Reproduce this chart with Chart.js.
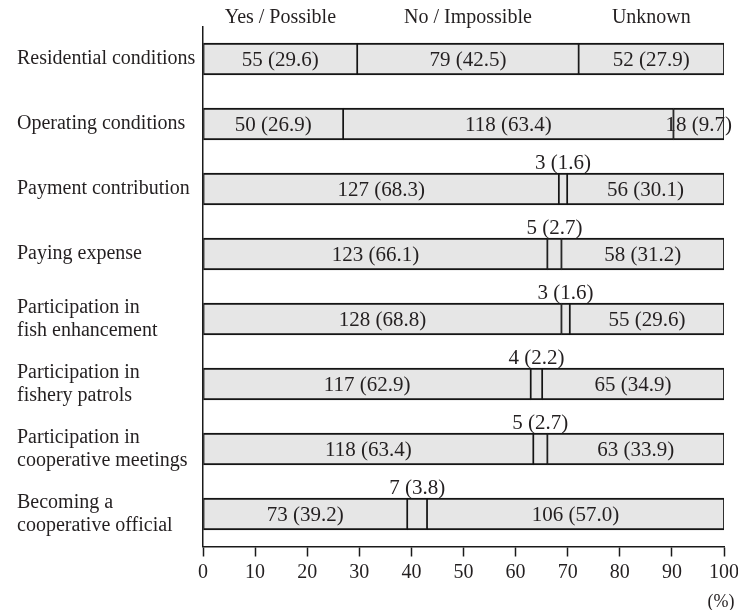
<!DOCTYPE html>
<html>
<head>
<meta charset="utf-8">
<script src="https://cdn.jsdelivr.net/npm/chart.js@4"></script>
<style>
  body { margin: 0; background: #ffffff; }
  #wrap { width: 738px; height: 610px; }
</style>
</head>
<body>
<div id="wrap"><canvas id="surveyChart" width="738" height="610"></canvas></div>
<script>
// === Chart data (counts and percentages per answer) ===
const categories = [
  "Residential conditions",
  "Operating conditions",
  "Payment contribution",
  "Paying expense",
  ["Participation in", "fish enhancement"],
  ["Participation in", "fishery patrols"],
  ["Participation in", "cooperative meetings"],
  ["Becoming a", "cooperative official"],
];
const answerNames = ["Yes / Possible", "No / Impossible", "Unknown"];

const yesCount = [55, 50, 127, 123, 128, 117, 118, 73];
const yesPct = [29.6, 26.9, 68.3, 66.1, 68.8, 62.9, 63.4, 39.2];
const noCount = [79, 118, 3, 5, 3, 4, 5, 7];
const noPct = [42.5, 63.4, 1.6, 2.7, 1.6, 2.2, 2.7, 3.8];
const unknownCount = [52, 18, 56, 58, 55, 65, 63, 106];
const unknownPct = [27.9, 9.7, 30.1, 31.2, 29.6, 34.9, 33.9, 57.0];

const xTicks = [0, 10, 20, 30, 40, 50, 60, 70, 80, 90, 100];

const counts = [yesCount, noCount, unknownCount];
const serif = "'Liberation Serif', 'DejaVu Serif', serif";
const textColor = "#231f20";

// === Plugin: value labels on / above bars, column headers, unit ===
const barLabels = {
  id: "barLabels",
  afterDatasetsDraw(chart) {
    const ctx = chart.ctx;
    ctx.save();
    ctx.fillStyle = textColor;
    ctx.textAlign = "center";
    ctx.textBaseline = "middle";
    chart.data.datasets.forEach((ds, di) => {
      const meta = chart.getDatasetMeta(di);
      ctx.font = "21px " + serif;
      meta.data.forEach((bar, i) => {
        const pct = ds.data[i];
        const label = counts[di][i] + " (" + pct.toFixed(1) + ")";
        const cx = (bar.x + bar.base) / 2;
        if (pct < 5) {
          // small slice: put the label above the bar
          ctx.fillText(label, cx, bar.y - bar.height / 2 - 10);
        } else {
          ctx.fillText(label, cx, bar.y + 1);
        }
      });
      // header above first row
      const first = meta.data[0];
      ctx.font = "20px " + serif;
      ctx.fillText(answerNames[di], (first.x + first.base) / 2, 18);
    });
    // unit label
    ctx.font = "18px " + serif;
    ctx.fillText("(%)", 721, 602);
    ctx.restore();
  },
};

const fillGray = "#e6e6e6";
function makeSet(name, values) {
  return {
    label: name,
    data: values,
    backgroundColor: fillGray,
    borderColor: "#151515",
    borderWidth: { top: 2, bottom: 2, left: 1.2, right: 1.2 },
    borderSkipped: false,
    barThickness: 32,
  };
}

const ctx = document.getElementById("surveyChart").getContext("2d");
new Chart(ctx, {
  type: "bar",
  data: {
    labels: categories,
    datasets: [
      makeSet(answerNames[0], yesPct),
      makeSet(answerNames[1], noPct),
      makeSet(answerNames[2], unknownPct),
    ],
  },
  options: {
    indexAxis: "y",
    responsive: false,
    animation: false,
    devicePixelRatio: 1,
    layout: { padding: { left: 17, right: 14, top: 26.5, bottom: 0 } },
    plugins: {
      legend: { display: false },
      tooltip: { enabled: false },
    },
    scales: {
      x: {
        stacked: true,
        min: 0,
        max: 100,
        afterFit: (scale) => {
          scale.height = 63.5;
          scale.paddingLeft = 0;
          scale.paddingRight = 0;
        },
        afterBuildTicks: (scale) => {
          scale.ticks = xTicks.map((v) => ({ value: v }));
        },
        grid: {
          display: true,
          drawOnChartArea: false,
          drawTicks: true,
          tickLength: 10,
          tickWidth: 1.5,
          color: "#1a1a1a",
        },
        border: { display: true, color: "#1a1a1a", width: 1.5 },
        ticks: {
          color: textColor,
          padding: 4,
          maxRotation: 0,
          font: { family: serif, size: 20 },
        },
      },
      y: {
        stacked: true,
        afterFit: (scale) => { scale.width = 186; },
        grid: { display: false, drawTicks: false },
        border: { display: true, color: "#1a1a1a", width: 1.5 },
        ticks: {
          color: textColor,
          crossAlign: "far",
          autoSkip: false,
          padding: 0,
          font: { family: serif, size: 20, lineHeight: 1.15 },
        },
      },
    },
  },
  plugins: [barLabels],
});
</script>
</body>
</html>
